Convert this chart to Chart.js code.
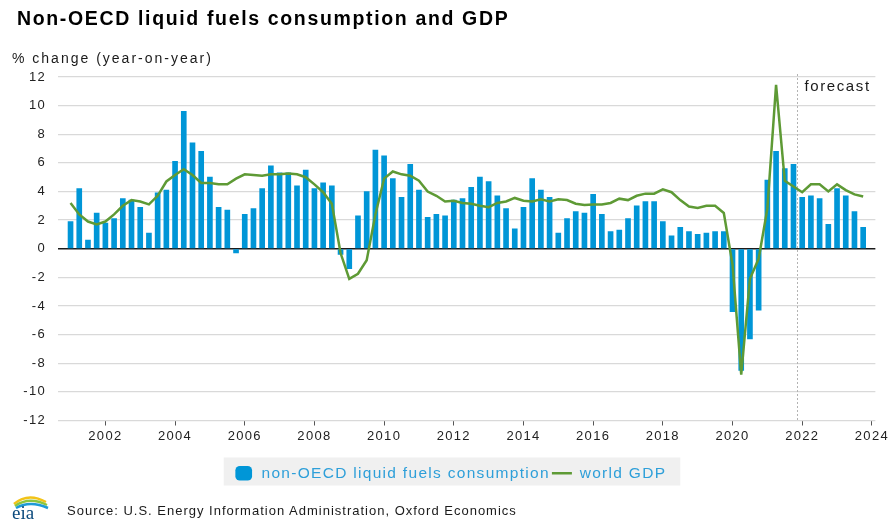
<!DOCTYPE html>
<html>
<head>
<meta charset="utf-8">
<script src="https://cdn.jsdelivr.net/npm/chart.js@4.4.1/dist/chart.umd.min.js"></script>
<style>
  body { margin: 0; background: #fff; font-family: "Liberation Sans", Arial, sans-serif; }
  #wrap { position: relative; width: 892px; height: 520px; }
  #chart { position: absolute; left: 0; top: 0; }
  .txt { position: absolute; line-height: 1; white-space: nowrap; color: #1a1a1a; }
  #title { left: 17px; top: 9px; font-size: 19.5px; font-weight: bold; letter-spacing: 1.65px; color: #000; }
  #ytitle { left: 12px; top: 51px; font-size: 14px; letter-spacing: 2px; }
  #source { left: 67px; top: 504px; font-size: 13px; letter-spacing: 1px; }
  #logo { position: absolute; left: 8px; top: 492px; }
</style>
</head>
<body>
<div id="wrap">
  <canvas id="chart" width="892" height="520"></canvas>
  <div id="title" class="txt">Non-OECD liquid fuels consumption and GDP</div>
  <div id="ytitle" class="txt">% change (year-on-year)</div>
  <div id="source" class="txt">Source: U.S. Energy Information Administration, Oxford Economics</div>
  <svg id="logo" width="46" height="28" viewBox="0 0 46 28">
    <path d="M6 12 Q20 0 38 10" stroke="#f2c318" stroke-width="2.5" fill="none"/>
    <path d="M7 14 Q21 4 39 13" stroke="#8cc63f" stroke-width="2.5" fill="none"/>
    <path d="M8 16 Q22 8 40 16" stroke="#1e9ad6" stroke-width="2.5" fill="none"/>
    <text x="4" y="27" font-family="Liberation Serif, serif" font-size="19" fill="#0b4a7d">eia</text>
  </svg>
</div>
<script>
// quarterly data, 2001Q1 - 2023Q4
const years = [2001, 2002, 2003, 2004, 2005, 2006, 2007, 2008, 2009, 2010, 2011, 2012,
               2013, 2014, 2015, 2016, 2017, 2018, 2019, 2020, 2021, 2022, 2023];
const quarters = ['Q1', 'Q2', 'Q3', 'Q4'];
const tickYears = [2002, 2004, 2006, 2008, 2010, 2012, 2014, 2016, 2018, 2020, 2022, 2024];

const fuelsConsumption = [
  1.9, 4.2, 0.6, 2.5,   1.8, 2.1, 3.5, 3.4,   2.9, 1.1, 3.9, 4.1,   6.1, 9.6, 7.4, 6.8,
  5.0, 2.9, 2.7, -0.3,  2.4, 2.8, 4.2, 5.8,   5.3, 5.3, 4.4, 5.5,   4.2, 4.6, 4.4, -0.4,
  -1.4, 2.3, 4.0, 6.9,  6.5, 4.9, 3.6, 5.9,   4.1, 2.2, 2.4, 2.3,   3.4, 3.5, 4.3, 5.0,
  4.7, 3.7, 2.8, 1.4,   2.9, 4.9, 4.1, 3.6,   1.1, 2.1, 2.6, 2.5,   3.8, 2.4, 1.2, 1.3,
  2.1, 3.0, 3.3, 3.3,   1.9, 0.9, 1.5, 1.2,   1.0, 1.1, 1.2, 1.2,   -4.4, -8.5, -6.3, -4.3,
  4.8, 6.8, 5.6, 5.9,   3.6, 3.7, 3.5, 1.7,   4.2, 3.7, 2.6, 1.5
];
const worldGdp = [
  3.2, 2.4, 1.9, 1.7,   1.9, 2.4, 3.0, 3.4,   3.3, 3.1, 3.7, 4.7,   5.15, 5.55, 5.15, 4.6,
  4.6, 4.5, 4.5, 4.9,   5.2, 5.15, 5.1, 5.2,  5.2, 5.25, 5.2, 5.0,  4.5, 3.95, 3.15, -0.3,
  -2.1, -1.75, -0.8, 2.4, 4.9, 5.4, 5.2, 5.1, 4.75, 4.0, 3.7, 3.3,  3.35, 3.2, 3.15, 3.0,
  2.9, 3.2, 3.3, 3.55,  3.35, 3.3, 3.45, 3.3, 3.45, 3.4, 3.15, 3.05, 3.1, 3.1, 3.2, 3.5,
  3.4, 3.7, 3.85, 3.85, 4.15, 3.95, 3.4, 2.95, 2.85, 3.0, 3.0, 2.5, -1.1, -8.8, -2.1, -0.7,
  2.8, 11.45, 4.75, 4.35, 3.95, 4.5, 4.5, 4.0, 4.5, 4.1, 3.8, 3.65
];
const forecastStart = 2021.85;

const quarterLabels = [];
const quarterPos = [];
years.forEach(y => quarters.forEach((q, i) => {
  quarterLabels.push(y + q);
  quarterPos.push(y + i / 4);
}));

const barPoints = quarterPos.map((x, i) => ({x: x, y: fuelsConsumption[i]}));
const linePoints = quarterPos.map((x, i) => ({x: x, y: worldGdp[i]}));

// canvas text is spaced out a little to match the source image
const spacing = {
  id: 'spacing',
  beforeUpdate(chart) { chart.ctx.letterSpacing = '1.3px'; },
  beforeDraw(chart) { chart.ctx.letterSpacing = '1.3px'; }
};

// grey box behind the legend
const legendBox = {
  id: 'legendBox',
  beforeDraw(chart) {
    const boxes = chart.legend.legendHitBoxes;
    if (!boxes || !boxes.length) return;
    const first = boxes[0], last = boxes[boxes.length - 1];
    const ctx = chart.ctx;
    ctx.save();
    ctx.fillStyle = '#f0f0f0';
    ctx.fillRect(first.left - 10, first.top - 8, last.left + last.width + 14 - (first.left - 10), 28);
    ctx.restore();
  }
};

// dotted forecast line and label
const forecastLine = {
  id: 'forecastLine',
  beforeDatasetsDraw(chart) {
    const ctx = chart.ctx;
    const area = chart.chartArea;
    const x = Math.round(chart.scales.x.getPixelForValue(forecastStart)) + 0.5;
    ctx.save();
    ctx.strokeStyle = '#b3b3b3';
    ctx.lineWidth = 1;
    ctx.setLineDash([2, 2]);
    ctx.beginPath();
    ctx.moveTo(x, area.top - 3);
    ctx.lineTo(x, area.bottom);
    ctx.stroke();
    ctx.setLineDash([]);
    ctx.letterSpacing = '1.6px';
    ctx.font = '15px "Liberation Sans", Arial, sans-serif';
    ctx.fillStyle = '#1a1a1a';
    ctx.textBaseline = 'middle';
    ctx.fillText('forecast', x + 7, area.top + 10);
    ctx.restore();
  }
};

Chart.defaults.font.family = '"Liberation Sans", Arial, sans-serif';

new Chart(document.getElementById('chart'), {
  data: {
    labels: quarterLabels,
    datasets: [
      {
        type: 'bar',
        label: 'non-OECD liquid fuels consumption',
        data: barPoints,
        backgroundColor: '#0096d7',
        barThickness: 5,
        pointStyle: 'rectRounded'
      },
      {
        type: 'line',
        label: 'world GDP',
        data: linePoints,
        borderColor: '#5e9a35',
        backgroundColor: '#5e9a35',
        borderWidth: 2.5,
        pointRadius: 0,
        pointStyle: 'line',
        tension: 0,
        order: -1
      }
    ]
  },
  options: {
    responsive: false,
    animation: false,
    layout: { padding: { left: 22, right: 14, top: 77, bottom: 29 } },
    scales: {
      x: {
        type: 'linear',
        min: 2000.64,
        max: 2024.1,
        offset: false,
        afterBuildTicks: s => { s.ticks = tickYears.map(v => ({value: v})); },
        afterFit: s => { s.height = 43; },
        grid: { offset: false, drawOnChartArea: false, drawTicks: true, tickLength: 5, color: '#555', lineWidth: 1 },
        border: { display: false },
        ticks: {
          font: { size: 13 },
          color: '#222',
          padding: 3,
          maxRotation: 0,
          autoSkip: false,
          callback: v => String(v)
        }
      },
      y: {
        min: -12,
        max: 12,
        afterFit: s => { s.width = 36; },
        ticks: { stepSize: 2, font: { size: 13 }, color: '#222', padding: 12 },
        grid: {
          drawTicks: false,
          color: c => c.tick.value === 0 ? '#1a1a1a' : '#d9d9d9',
          lineWidth: c => c.tick.value === 0 ? 1.5 : 1.3
        },
        border: { display: false }
      }
    },
    plugins: {
      legend: {
        position: 'bottom',
        labels: {
          usePointStyle: true,
          pointStyleWidth: 20,
          boxHeight: 12,
          font: { size: 15.5 },
          color: '#2e9fd9',
          padding: 2,
          sort: (a, b) => a.datasetIndex - b.datasetIndex
        }
      },
      tooltip: { enabled: false }
    }
  },
  plugins: [spacing, legendBox, forecastLine]
});
</script>
</body>
</html>
